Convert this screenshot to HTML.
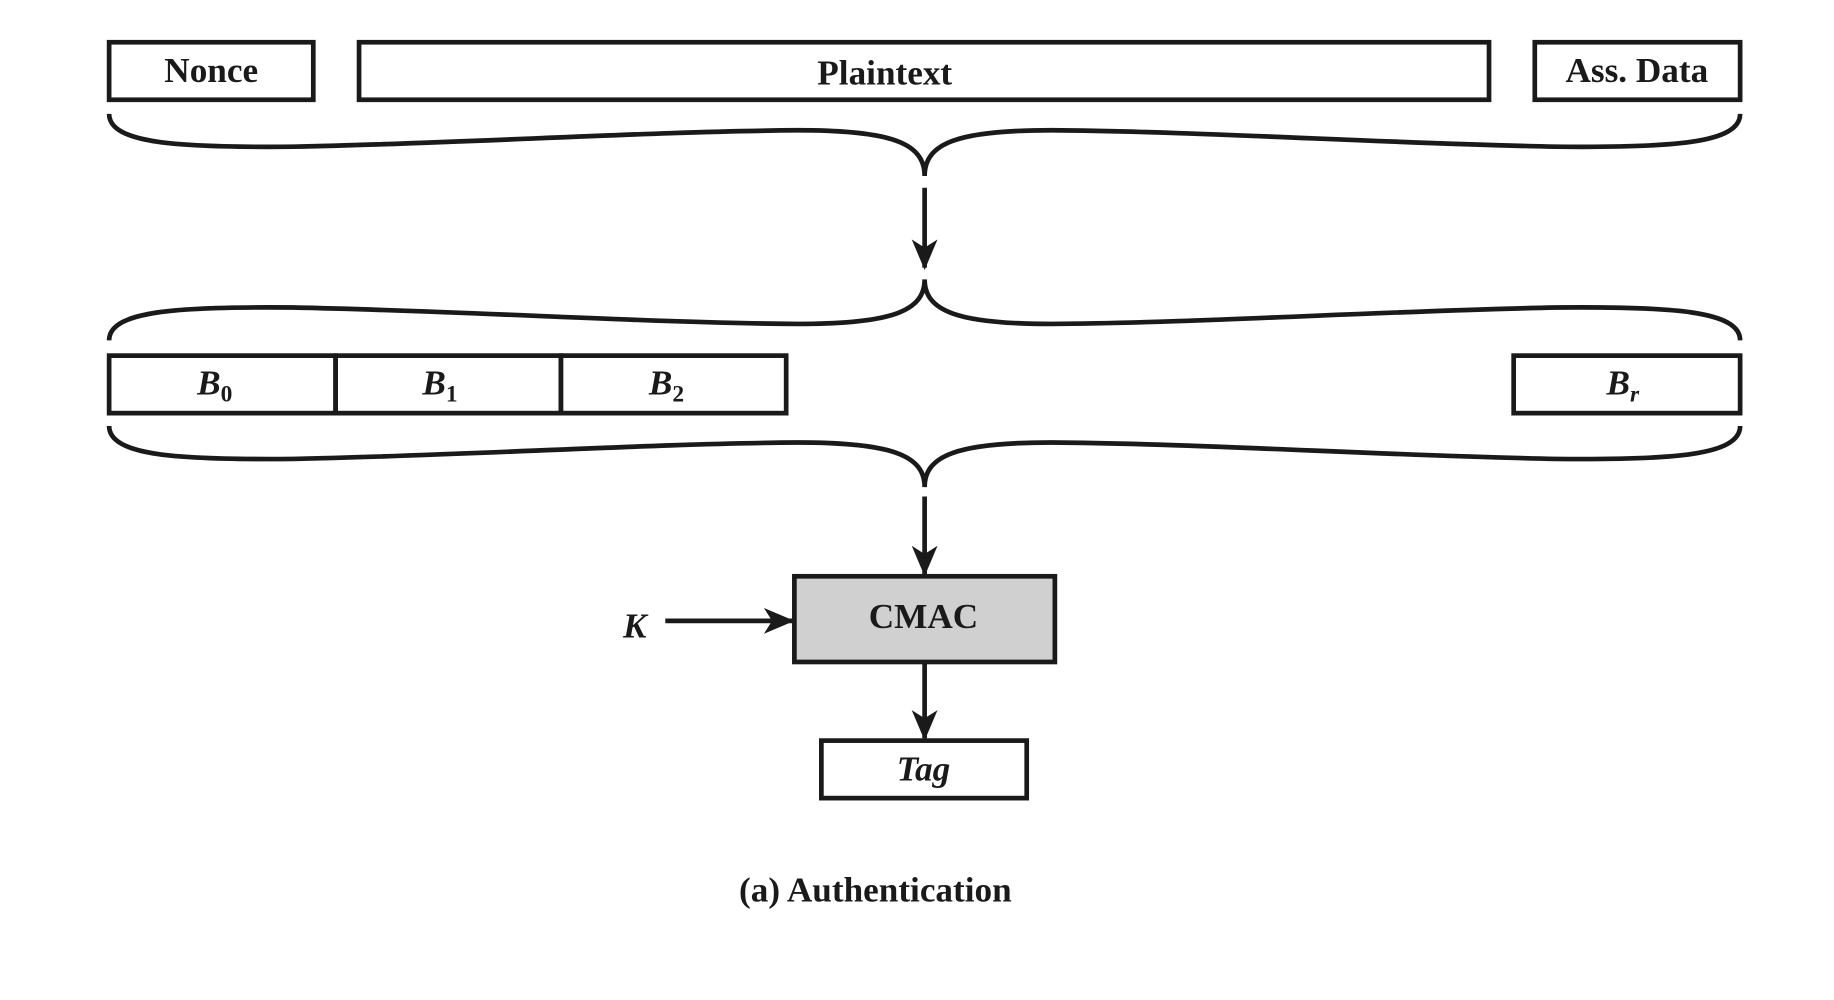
<!DOCTYPE html>
<html><head><style>html,body{margin:0;padding:0;background:#fff;}svg{display:block}</style></head>
<body>
<svg width="1834" height="1000" viewBox="0 0 1563 852" preserveAspectRatio="none" xmlns="http://www.w3.org/2000/svg" font-family="'Liberation Serif', serif" font-weight="bold" fill="#1a1a1a">
<defs><marker id="a" markerWidth="10" markerHeight="10" refX="9" refY="5" orient="auto" markerUnits="userSpaceOnUse" viewBox="0 0 10 10"><path d="M0,0 L10,5 L0,10 L3,5 z" fill="#1a1a1a"/></marker>
<marker id="b" markerWidth="26" markerHeight="26" refX="24" refY="13" orient="auto" markerUnits="userSpaceOnUse" viewBox="0 0 26 26"><path d="M0,2 L26,13 L0,24 L7,13 z" fill="#1a1a1a"/></marker></defs>
<g stroke="#1a1a1a" stroke-width="4" fill="none">
<rect x="93" y="36" width="174" height="49"/>
<rect x="306" y="36" width="963" height="49"/>
<rect x="1308" y="36" width="175" height="49"/>
<path d="M93,97 C93,122 150,126 250,125 C400,122 550,112 680,111 C760,111 788,122 788,150 C788,122 816,111 896,111 C1026,112 1176,122 1326,125 C1426,126 1483,122 1483,97"/>
<path d="M93,290 C93,265 150,261 250,262 C400,265 550,275 680,276 C760,276 788,265 788,238 C788,265 816,276 896,276 C1026,275 1176,265 1326,262 C1426,261 1483,265 1483,290"/>
<rect x="93" y="303" width="193" height="49"/>
<rect x="286" y="303" width="192" height="49"/>
<rect x="478" y="303" width="192" height="49"/>
<rect x="1290" y="303" width="193" height="49"/>
<path d="M93,363 C93,388 150,392 250,391 C400,388 550,378 680,377 C760,377 788,388 788,415 C788,388 816,377 896,377 C1026,378 1176,388 1326,391 C1426,392 1483,388 1483,363"/>
<line x1="788" y1="160" x2="788" y2="228" marker-end="url(#b)"/>
<line x1="788" y1="423" x2="788" y2="489" marker-end="url(#b)"/>
<line x1="567" y1="529" x2="675" y2="529" marker-end="url(#b)"/>
<line x1="788" y1="564" x2="788" y2="629" marker-end="url(#b)"/>
<rect x="677" y="491" width="222" height="73" fill="#d0d0d0"/>
<rect x="700" y="631" width="175" height="49"/>
</g>
<g font-size="30" text-anchor="middle">
<text x="180" y="70">Nonce</text>
<text x="754" y="72">Plaintext</text>
<text x="1395" y="70">Ass. Data</text>
<text x="183" y="336" font-style="italic">B<tspan font-size="20" dy="6" font-style="normal">0</tspan></text>
<text x="375" y="336" font-style="italic">B<tspan font-size="20" dy="6" font-style="normal">1</tspan></text>
<text x="568" y="336" font-style="italic">B<tspan font-size="20" dy="6" font-style="normal">2</tspan></text>
<text x="1383" y="336" font-style="italic">B<tspan font-size="20" dy="6">r</tspan></text>
<text x="787" y="535">CMAC</text>
<text x="541" y="543" font-style="italic">K</text>
<text x="787" y="665" font-style="italic">Tag</text>
<text x="746" y="768">(a) Authentication</text>
</g>
</svg>
</body></html>
